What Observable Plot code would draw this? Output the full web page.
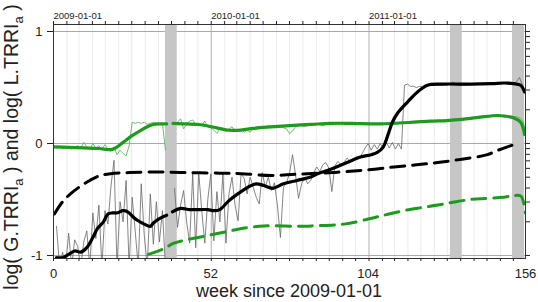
<!DOCTYPE html>
<html><head><meta charset="utf-8">
<script src="https://cdn.jsdelivr.net/npm/d3@7"></script>
<script src="https://cdn.jsdelivr.net/npm/@observablehq/plot@0.6"></script>
<style>body{margin:0;background:#fff} svg{display:block}</style>
</head><body><div id="chart"></div>
<script>
// ---- data ----
// thin black: weekly raw log(L.TRRI_a), weeks 1..156 (values below the frame are clipped)
const rawLWeeks = d3.range(1, 157);
const rawL = [
 -0.74,-1.10,-0.97,-1.10,-0.80,-1.10,-0.86,-0.92,-1.10,-0.88,
 -0.78,-1.10,-0.62,-0.85,-0.55,-1.10,-0.60,-0.72,-0.38,-0.15,
 -1.10,-0.52,-0.70,-0.33,-1.10,-0.48,-0.78,-1.10,-0.36,-0.82,
 -1.10,-0.45,-0.90,-0.52,-0.88,-0.60,-1.10,null,null,-0.40,
 -0.75,-0.55,-0.42,-0.70,-0.89,-0.27,-0.93,-0.26,-0.60,-0.89,
 -0.50,-0.27,-0.87,-0.43,-0.70,-0.27,-0.89,-0.45,-0.30,-0.55,
 -0.69,-0.27,-0.31,-0.45,-0.30,-0.39,-0.48,-0.54,-0.26,-0.39,
 -0.30,-0.42,-0.35,-0.55,-0.84,-0.39,-0.35,-0.27,-0.10,-0.28,
 -0.49,-0.36,-0.30,-0.36,-0.33,-0.26,-0.21,-0.25,-0.19,-0.17,
 -0.22,-0.43,-0.20,-0.16,-0.19,-0.17,-0.13,-0.16,-0.14,-0.12,
 -0.13,-0.09,-0.04,0.00,-0.06,-0.01,-0.05,0.00,-0.05,0.01,
 -0.04,0.01,-0.05,0.00,-0.05,0.52,0.53,0.51,0.51,0.50,
 0.51,0.51,0.52,0.52,0.52,0.52,0.52,0.52,0.52,0.52,
 0.53,0.55,0.53,0.52,0.52,0.52,0.52,0.53,0.53,0.53,
 0.53,0.53,0.53,0.53,0.54,0.54,0.54,0.54,0.54,0.53,
 0.53,0.53,0.55,0.59,0.52,0.46
];
// thin green: weekly raw log(G.TRRI_a), weeks 0..156
const rawGWeeks = d3.range(0, 157);
const rawG = [
 -0.03,-0.04,-0.03,-0.05,-0.03,-0.04,-0.05,-0.03,-0.02,-0.04,
 0.01,-0.03,-0.05,0.00,-0.04,-0.02,-0.05,-0.01,-0.05,-0.07,
 -0.03,-0.10,-0.06,-0.09,-0.11,-0.02,0.19,0.18,0.19,0.18,
 0.19,0.17,0.18,0.19,0.18,0.17,0.18,-0.06,null,null,
 0.18,0.19,0.22,0.13,0.17,0.20,0.21,0.17,0.18,0.16,
 0.20,0.15,0.14,0.12,0.09,0.13,0.12,0.11,0.13,0.15,
 0.11,0.12,0.13,0.10,0.12,0.10,0.14,0.13,0.14,0.15,
 0.14,0.16,0.15,0.14,0.15,0.15,0.14,0.13,0.09,0.11,
 0.15,0.16,0.16,0.15,0.16,0.17,0.16,0.17,0.17,0.16,
 0.17,0.18,0.17,0.18,0.17,0.18,0.18,0.17,0.18,0.17,
 0.18,0.18,0.17,0.18,0.17,0.18,0.18,0.17,0.18,0.18,
 0.18,0.19,0.18,0.19,0.18,0.19,0.19,0.19,0.19,0.19,
 0.19,0.20,0.19,0.20,0.20,0.20,0.20,0.20,0.20,0.21,
 0.20,0.21,0.21,0.21,0.21,0.22,0.22,0.22,0.23,0.23,
 0.23,0.24,0.24,0.24,0.25,0.25,0.25,0.25,0.25,0.24,
 0.24,0.24,0.24,0.24,0.23,0.21,0.12
];
// thick black: smoothed L
const smoothLWeeks = [1,3,5,7,9,11,13,14.5,16.5,18,19.5,21,23,24.5,26.5,28,30,32,33,35,37.4,38,
  39.3,42,45,48.6,51,53,55,58,62,65,67,69.5,72.5,76,80.5,85,87.3,91.6,97,101.5,105,107,109,110.7,112,113.7,117,120.3,123.6,128,138,145,149,152,154.4,155.7];
const smoothL = [-1.02,-1.02,-0.99,-0.96,-0.97,-0.93,-0.84,-0.76,-0.70,-0.63,-0.62,-0.62,-0.60,-0.61,-0.66,-0.69,-0.72,-0.74,-0.71,-0.67,-0.64,null,
  -0.61,-0.58,-0.59,-0.59,-0.59,-0.60,-0.59,-0.51,-0.43,-0.38,-0.36,-0.375,-0.40,-0.36,-0.33,-0.30,-0.27,-0.23,-0.17,-0.12,-0.10,-0.08,-0.03,0.09,0.19,0.27,0.37,0.46,0.52,0.53,0.53,0.535,0.54,0.535,0.52,0.46];
// thick green: smoothed G
const smoothGWeeks = [0,5,10,15,19,20.5,23,26,29,31,33,35,37.4,38,39.5,44,48.6,54,58,62,66,71.7,78,85,91.6,98,108,119,124.6,130,135,141,146.7,149,152,154.4,155.7];
const smoothG = [-0.03,-0.035,-0.04,-0.045,-0.055,-0.04,0.01,0.07,0.12,0.15,0.17,0.175,0.175,null,0.18,0.175,0.167,0.14,0.118,0.12,0.135,0.148,0.16,0.17,0.18,0.18,0.176,0.19,0.20,0.205,0.215,0.235,0.25,0.245,0.23,0.19,0.08];
// dashed black
const trendLWeeks = [0.3,3,5.6,9,12,15,18.8,25,35,45,55,62,72,80,94,104,112.5,120,127,135,143.4,146,150,153.7];
const trendL = [-0.63,-0.52,-0.45,-0.38,-0.33,-0.29,-0.27,-0.26,-0.255,-0.26,-0.265,-0.27,-0.285,-0.275,-0.256,-0.235,-0.21,-0.19,-0.17,-0.14,-0.10,-0.07,-0.03,0.0];
// dashed green
const trendGWeeks = [31.4,36.4,39.8,44,49.5,58.5,63,68,71.7,80,86,96,104.8,110,115.7,121,127,132,137.8,143,148.8,152,154.5,155.4,156];
const trendG = [-0.99,-0.94,-0.89,-0.86,-0.83,-0.78,-0.755,-0.74,-0.735,-0.74,-0.735,-0.72,-0.67,-0.635,-0.60,-0.575,-0.55,-0.525,-0.50,-0.49,-0.48,-0.465,-0.47,-0.53,-0.62];
// shaded bands (weeks)
const bandStart = [37.0, 131.2, 151.7];
const bandEnd = [40.9, 135.1, 155.7];
// tick labels
const xTickValues = [0, 52, 104, 156];
const yTickValues = [-1, 0, 1];
const yearDates = ["2009-01-01", "2010-01-01", "2011-01-01"];

// ---- derived tick positions ----
const t0 = new Date(Date.UTC(2009, 0, 1));
const weekOf = d => (d - t0) / 864e5 / 7;
const monthWeeks = d3.utcMonth.range(t0, new Date(Date.UTC(2012, 0, 2))).map(weekOf).filter(w => w <= 156);
const yearWeeks = yearDates.map(s => weekOf(new Date(s + "T00:00:00Z")));
const yearLabel = new Map(yearWeeks.map((w, i) => [w, yearDates[i]]));
const logTicks = [...d3.range(1, 11).map(k => Math.log10(k)), ...d3.range(1, 10).map(k => Math.log10(k / 10))];

const pts = (xs, ys) => xs.map((x, i) => ({x, y: ys[i]}));
const bands = bandStart.map((s, i) => ({s, e: bandEnd[i]}));
const green = "#1e9a1e";

const plot = Plot.plot({
  width: 538, height: 302,
  marginLeft: 53, marginRight: 13, marginTop: 24, marginBottom: 44,
  style: {fontFamily: "'Liberation Sans', Arial, sans-serif", color: "#222", background: "#fff"},
  x: {domain: [0, 156]},
  y: {domain: [-1.027, 1.0625]},
  marks: [
    Plot.gridX(monthWeeks, {stroke: "#ebebeb", strokeOpacity: 1}),
    Plot.gridX(yearWeeks.slice(1), {stroke: "#b8b8b8", strokeOpacity: 1}),
    Plot.gridY(yTickValues, {stroke: "#a8a8a8", strokeOpacity: 1}),
    Plot.rect(bands, {x1: "s", x2: "e", fill: "#c6c6c6"}),
    Plot.line(pts(rawLWeeks, rawL), {x: "x", y: "y", stroke: "#666", strokeWidth: 0.8, clip: true}),
    Plot.line(pts(rawGWeeks, rawG), {x: "x", y: "y", stroke: "#5cb85c", strokeWidth: 0.9, clip: true}),
    Plot.line(pts(trendLWeeks, trendL), {x: "x", y: "y", stroke: "#000", strokeWidth: 3, strokeDasharray: "14,8", curve: "catmull-rom", clip: true}),
    Plot.line(pts(trendGWeeks, trendG), {x: "x", y: "y", stroke: green, strokeWidth: 3, strokeDasharray: "14,8", curve: "catmull-rom", clip: true}),
    Plot.line(pts(smoothGWeeks, smoothG), {x: "x", y: "y", stroke: green, strokeWidth: 3.2, curve: "catmull-rom", clip: true}),
    Plot.line(pts(smoothLWeeks, smoothL), {x: "x", y: "y", stroke: "#000", strokeWidth: 3.2, curve: "catmull-rom", clip: true}),
    Plot.frame({stroke: "#333"}),
    Plot.axisX(monthWeeks, {anchor: "bottom", tickSize: 3, tickFormat: () => "", label: null}),
    Plot.axisX(xTickValues, {anchor: "bottom", tickSize: 0, tickPadding: 10, fontSize: 13, tickFormat: d => String(d), label: null}),
    Plot.axisX(monthWeeks, {anchor: "top", tickSize: 4, tickFormat: () => "", label: null}),
    Plot.axisX(yearWeeks, {anchor: "top", tickSize: 0, tickPadding: 6, fontSize: 9.5, textAnchor: "start", tickFormat: d => yearLabel.get(d), label: null}),
    Plot.axisY(yTickValues, {anchor: "left", tickSize: 6, tickPadding: 5, fontSize: 13, tickFormat: d => String(d), label: null}),
    Plot.axisY(logTicks, {anchor: "right", tickSize: 4, tickFormat: () => "", label: null})
  ]
});

const svg = d3.select(plot);
svg.append("text")
  .attr("x", 289).attr("y", 297)
  .attr("text-anchor", "middle")
  .attr("font-size", 18).attr("fill", "#222")
  .text("week since 2009-01-01");
const yt = svg.append("text")
  .attr("transform", "translate(17.5,147) rotate(-90)")
  .attr("text-anchor", "middle")
  .attr("font-size", 19.5).attr("fill", "#222");
yt.append("tspan").text("log( G.TRRI");
yt.append("tspan").attr("font-size", 13).attr("dy", 5).text("a");
yt.append("tspan").attr("dy", -5).text(" ) and log( L.TRRI");
yt.append("tspan").attr("font-size", 13).attr("dy", 5).text("a");
yt.append("tspan").attr("dy", -5).text(" )");

document.getElementById("chart").append(plot);
</script>
</body></html>
